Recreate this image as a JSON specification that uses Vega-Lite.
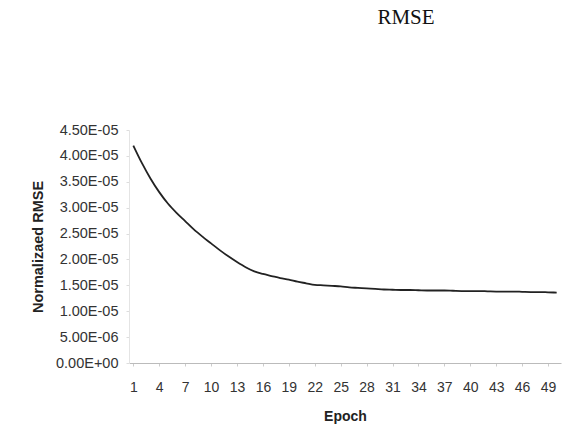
{
  "$schema": "https://vega.github.io/schema/vega-lite/v6.json",
  "autosize": {"type": "none"},
  "width": 432,
  "height": 233,
  "padding": {"left": 129, "top": 130, "right": 4, "bottom": 66},
  "background": "white",
  "title": {"text": "RMSE", "font": "Liberation Serif", "fontSize": 21, "fontWeight": "normal", "color": "#111", "anchor": "middle", "dx": 61, "offset": 94},
  "config": {"view": {"stroke": null}},
  "data": {"values": [
    {"epoch": 1, "rmse": 4.2e-5}, {"epoch": 2, "rmse": 3.86e-5}, {"epoch": 3, "rmse": 3.56e-5},
    {"epoch": 4, "rmse": 3.3e-5}, {"epoch": 5, "rmse": 3.08e-5}, {"epoch": 6, "rmse": 2.9e-5},
    {"epoch": 7, "rmse": 2.74e-5}, {"epoch": 8, "rmse": 2.58e-5}, {"epoch": 9, "rmse": 2.44e-5},
    {"epoch": 10, "rmse": 2.31e-5}, {"epoch": 11, "rmse": 2.18e-5}, {"epoch": 12, "rmse": 2.06e-5},
    {"epoch": 13, "rmse": 1.95e-5}, {"epoch": 14, "rmse": 1.85e-5}, {"epoch": 15, "rmse": 1.77e-5},
    {"epoch": 16, "rmse": 1.72e-5}, {"epoch": 17, "rmse": 1.68e-5}, {"epoch": 18, "rmse": 1.64e-5},
    {"epoch": 19, "rmse": 1.61e-5}, {"epoch": 20, "rmse": 1.57e-5}, {"epoch": 21, "rmse": 1.54e-5},
    {"epoch": 22, "rmse": 1.51e-5}, {"epoch": 23, "rmse": 1.5e-5}, {"epoch": 24, "rmse": 1.49e-5},
    {"epoch": 25, "rmse": 1.48e-5}, {"epoch": 26, "rmse": 1.46e-5}, {"epoch": 27, "rmse": 1.45e-5},
    {"epoch": 28, "rmse": 1.44e-5}, {"epoch": 29, "rmse": 1.43e-5}, {"epoch": 30, "rmse": 1.42e-5},
    {"epoch": 31, "rmse": 1.415e-5}, {"epoch": 32, "rmse": 1.41e-5}, {"epoch": 33, "rmse": 1.41e-5},
    {"epoch": 34, "rmse": 1.405e-5}, {"epoch": 35, "rmse": 1.4e-5}, {"epoch": 36, "rmse": 1.4e-5},
    {"epoch": 37, "rmse": 1.4e-5}, {"epoch": 38, "rmse": 1.395e-5}, {"epoch": 39, "rmse": 1.39e-5},
    {"epoch": 40, "rmse": 1.39e-5}, {"epoch": 41, "rmse": 1.39e-5}, {"epoch": 42, "rmse": 1.385e-5},
    {"epoch": 43, "rmse": 1.38e-5}, {"epoch": 44, "rmse": 1.38e-5}, {"epoch": 45, "rmse": 1.38e-5},
    {"epoch": 46, "rmse": 1.375e-5}, {"epoch": 47, "rmse": 1.37e-5}, {"epoch": 48, "rmse": 1.37e-5},
    {"epoch": 49, "rmse": 1.365e-5}, {"epoch": 50, "rmse": 1.36e-5}
  ]},
  "mark": {"type": "line", "color": "#222", "strokeWidth": 1.8, "interpolate": "monotone"},
  "encoding": {
    "x": {
      "field": "epoch", "type": "ordinal",
      "scale": {"paddingInner": 0, "paddingOuter": 0},
      "axis": {
        "title": "Epoch", "titleFont": "Liberation Sans", "titleFontSize": 14, "titleFontWeight": "bold", "titleColor": "#222", "titlePadding": 15,
        "values": [1,4,7,10,13,16,19,22,25,28,31,34,37,40,43,46,49],
        "labelAngle": 0, "labelFont": "Liberation Sans", "labelFontSize": 14, "labelColor": "#333", "labelPadding": 14,
        "domainColor": "#bbb", "tickColor": "#ccc", "tickSize": 3, "grid": false
      }
    },
    "y": {
      "field": "rmse", "type": "quantitative",
      "scale": {"domain": [0, 4.5e-5], "nice": false},
      "axis": {
        "title": "Normalizaed RMSE", "titleFont": "Liberation Sans", "titleFontSize": 14.5, "titleFontWeight": "bold", "titleColor": "#222", "titlePadding": 10,
        "values": [0, 5e-6, 1e-5, 1.5e-5, 2e-5, 2.5e-5, 3e-5, 3.5e-5, 4e-5, 4.5e-5],
        "labelExpr": "replace(replace(format(datum.value, '.2e'), 'e-', 'E-0'), 'e+', 'E+0')",
        "labelFont": "Liberation Sans", "labelFontSize": 14.5, "labelColor": "#333", "labelPadding": 8,
        "domainColor": "#e4e4e4", "tickColor": "#ddd", "tickSize": 3, "grid": false
      }
    }
  }
}
